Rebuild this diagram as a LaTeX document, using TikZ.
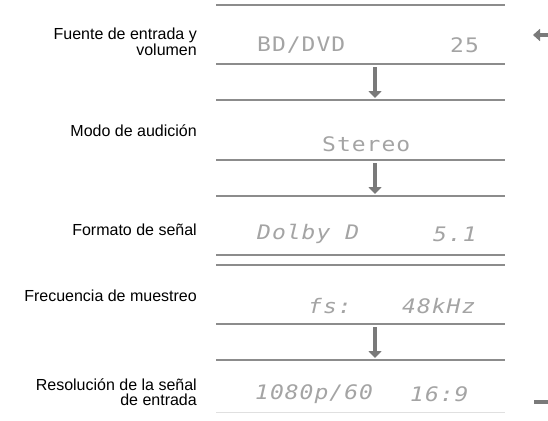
\documentclass[tikz,border=0pt]{standalone}
\usepackage{fontspec}
\setmainfont{Liberation Sans}
\newfontfamily\lcd[FakeStretch=1.15, LetterSpace=5]{DejaVu Sans Mono}
\newfontfamily\lcdit[FakeStretch=1.15, LetterSpace=5]{DejaVu Sans Mono Oblique}
\usetikzlibrary{arrows.meta}
\definecolor{rulegray}{HTML}{8C8C8C}
\definecolor{arrowgray}{HTML}{7A7A7A}
\definecolor{dotgray}{HTML}{A4A4A4}
\begin{document}
\begin{tikzpicture}[
  x=1pt, y=-1pt,
  every node/.style={inner sep=0pt},
  label/.style={anchor=east, align=right, font=\fontsize{16}{14.5}\selectfont},
  disp/.style={anchor=west, text=dotgray, font=\fontsize{20}{20}\lcd},
  dispit/.style={anchor=west, text=dotgray, font=\fontsize{20}{20}\lcdit},
  rule/.style={draw=rulegray, line width=1.5pt},
  flow/.style={draw=arrowgray, line width=4pt, -{Triangle[width=13pt, length=7pt]}}
]
\useasboundingbox (0,0) rectangle (548,420);

% Labels on the left
\node[label] (src) at (197, 42) {Fuente de entrada y\\volumen};
\node[label] (mode) at (197, 131) {Modo de audición};
\node[label] (fmt) at (197, 230) {Formato de señal};
\node[label] (fs) at (197, 296) {Frecuencia de muestreo};
\node[label] (res) at (197, 392) {Resolución de la señal\\de entrada};

% Display texts
\node[disp] (srcA) at (257, 45) {BD/DVD};
\node[disp] (srcB) at (450, 45) {25};
\node[disp] (modeA) at (322, 144) {Stereo};
\node[dispit] (fmtA) at (257, 234) {Dolby D};
\node[dispit] (fmtB) at (433, 234) {5.1};
\node[dispit] (fsA) at (308, 306) {fs:};
\node[dispit] (fsB) at (402, 306) {48kHz};
\node[dispit] (resA) at (255, 394) {1080p/60};
\node[dispit] (resB) at (410, 394) {16:9};

% Rules
\foreach \y in {5, 64, 100, 160, 196, 255, 265, 324, 360}
  \draw[rule] (216, \y) -- (505, \y);
\draw[draw=black!12, line width=1pt] (216, 412) -- (505, 412);

% Arrow end points
\coordinate (a1) at (375, 67);
\coordinate (b1) at (375, 98);
\coordinate (a2) at (375, 163);
\coordinate (b2) at (375, 194);
\coordinate (a3) at (375, 327);
\coordinate (b3) at (375, 358);
\coordinate (inR) at (548, 35);
\coordinate (inL) at (533, 35);
\coordinate (outL) at (534, 402);
\coordinate (outR) at (548, 402);

% Arrows
\draw[flow] (a1) -- (b1);
\draw[flow] (a2) -- (b2);
\draw[flow] (a3) -- (b3);
\draw[flow, line width=4.5pt, -{Triangle[width=12pt, length=7pt]}] (inR) -- (inL);
\draw[draw=arrowgray, line width=4pt] (outL) -- (outR);

\end{tikzpicture}
\end{document}
